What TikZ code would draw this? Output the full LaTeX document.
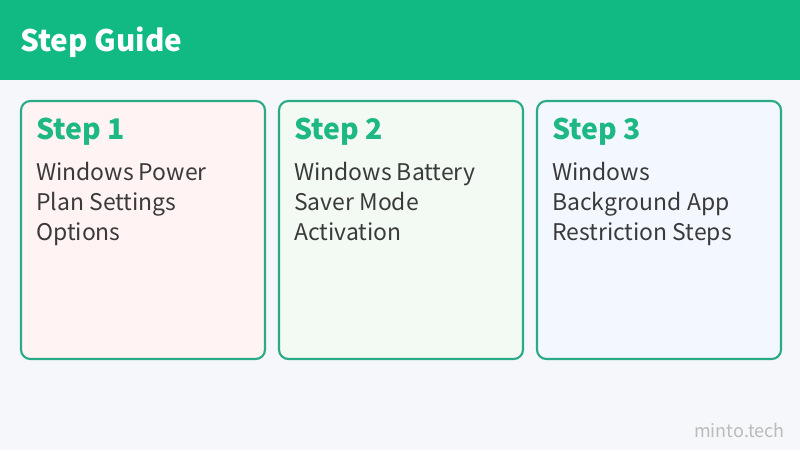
\documentclass[tikz,border=0pt]{standalone}
\usepackage{fontspec}
\setmainfont{Noto Sans CJK JP}
\definecolor{bg}{HTML}{F5F7FA}
\definecolor{hdr}{HTML}{12BA83}
\definecolor{brd}{HTML}{2AAA85}
\definecolor{stepc}{HTML}{1DB883}
\definecolor{txt}{HTML}{3A3A3A}
\definecolor{fa}{HTML}{FFF3F3}
\definecolor{fb}{HTML}{F3FAF3}
\definecolor{fc}{HTML}{F3F7FF}
\definecolor{wm}{HTML}{BBBBBB}
\tikzset{
  card/.style={draw=brd, line width=1.6pt, rounded corners=7pt},
  steplbl/.style={anchor=base west, inner sep=0pt, text=stepc, font=\fontsize{21.3}{24}\selectfont\bfseries},
  bodytxt/.style={anchor=base west, inner sep=0pt, text=txt, align=left, font=\fontsize{17.2}{22.5}\selectfont},
}
\begin{document}
\begin{tikzpicture}[x=0.75pt,y=-0.75pt]
\useasboundingbox (0,0) rectangle (800,450);
\fill[bg] (0,0) rectangle (800,450);
\fill[hdr] (0,0) rectangle (800,80);
\node[anchor=base west, inner sep=0pt, text=white, font=\fontsize{22.2}{25}\selectfont\bfseries] (title) at (20,51) {Step Guide};
\draw[card, fill=fa] (21,101) rectangle (265,359);
\draw[card, fill=fb] (279,101) rectangle (523,359);
\draw[card, fill=fc] (537,101) rectangle (781,359);
\node[steplbl] (s1) at (36,139) {Step 1};
\node[steplbl] (s2) at (294,139) {Step 2};
\node[steplbl] (s3) at (552,139) {Step 3};
\node[bodytxt] (b1) at (36,240) {Windows Power\\Plan Settings\\Options};
\node[bodytxt] (b2) at (294,240) {Windows Battery\\Saver Mode\\Activation};
\node[bodytxt] (b3) at (552,240) {Windows\\Background App\\Restriction Steps};
\node[anchor=base east, inner sep=0pt, text=wm, font=\fontsize{13.5}{16}\selectfont] (wmk) at (785,437) {minto.tech};
\end{tikzpicture}
\end{document}
